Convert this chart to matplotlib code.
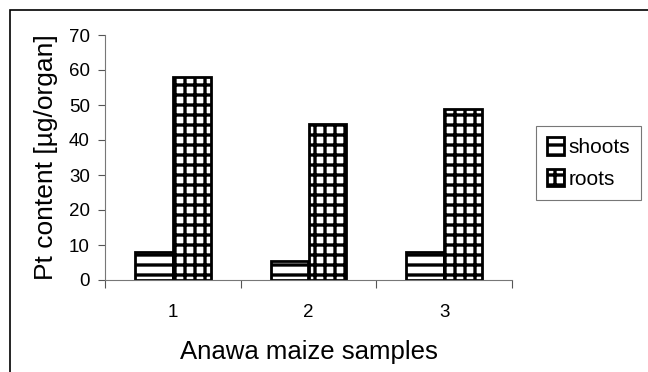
import matplotlib.pyplot as plt
from matplotlib.patches import Rectangle
import numpy as np

samples = ["1", "2", "3"]
shoots = [8.0, 5.5, 8.0]
roots = [58.0, 44.5, 49.0]

# render at a low dpi so the hatch grid is as coarse as in the original
DPI = 60
S = 100 / DPI   # sizes below are given as if at 100 dpi

plt.rcParams['font.family'] = ['Liberation Sans', 'DejaVu Sans']
plt.rcParams['hatch.linewidth'] = 2.4 * S

fig = plt.figure(figsize=(648 / DPI, 372 / DPI), dpi=DPI)
ax = fig.add_axes([105/648, 1 - 280/372, (512-105)/648, (280-35)/372])

# figure border
fig.patches.append(Rectangle((10/648, -0.1), 1, 1 - 10/372 + 0.1, transform=fig.transFigure,
                             fill=False, edgecolor='black', linewidth=1.2 * S))

x = np.arange(1, len(samples) + 1)
w = 0.28
ax.bar(x - w/2, shoots, w, color='white', edgecolor='black', linewidth=2 * S, hatch='-', label='shoots')
ax.bar(x + w/2, roots, w, color='white', edgecolor='black', linewidth=2 * S, hatch='+', label='roots')

ax.set_xlim(0.5, 3.5)
ax.set_ylim(0, 70)
ax.set_yticks(range(0, 71, 10))
ax.set_xticks([0.5, 1.5, 2.5, 3.5])
ax.set_xticklabels([])
ax.set_xticks(x, minor=True)
ax.set_xticklabels(samples, minor=True)
ax.tick_params(axis='x', which='minor', length=0, pad=17 * S, labelsize=13.5 * S)
ax.tick_params(axis='x', which='major', length=6 * S, width=0.8 * S, color='#555555', direction='out')
ax.tick_params(axis='y', length=5 * S, width=0.8 * S, color='#555555', labelsize=13.5 * S, pad=6 * S)
for s in ['top', 'right']:
    ax.spines[s].set_visible(False)
for s in ['left', 'bottom']:
    ax.spines[s].set_color('#777777')
    ax.spines[s].set_linewidth(0.8 * S)

ax.set_ylabel("Pt content [\u00b5g/organ]", fontsize=19 * S, labelpad=8 * S)
ax.set_xlabel("Anawa maize samples", fontsize=18.5 * S, labelpad=14 * S)

leg = ax.legend(loc='upper left', bbox_to_anchor=(536/648, 1 - 126/372), bbox_transform=fig.transFigure,
                borderaxespad=0, fontsize=15 * S, frameon=True, fancybox=False, edgecolor='#555555',
                handlelength=0.8, handleheight=0.9, handletextpad=0.2, borderpad=0.55, labelspacing=0.55)
leg.get_frame().set_linewidth(0.8 * S)

fig.savefig("out.png", dpi=DPI)
